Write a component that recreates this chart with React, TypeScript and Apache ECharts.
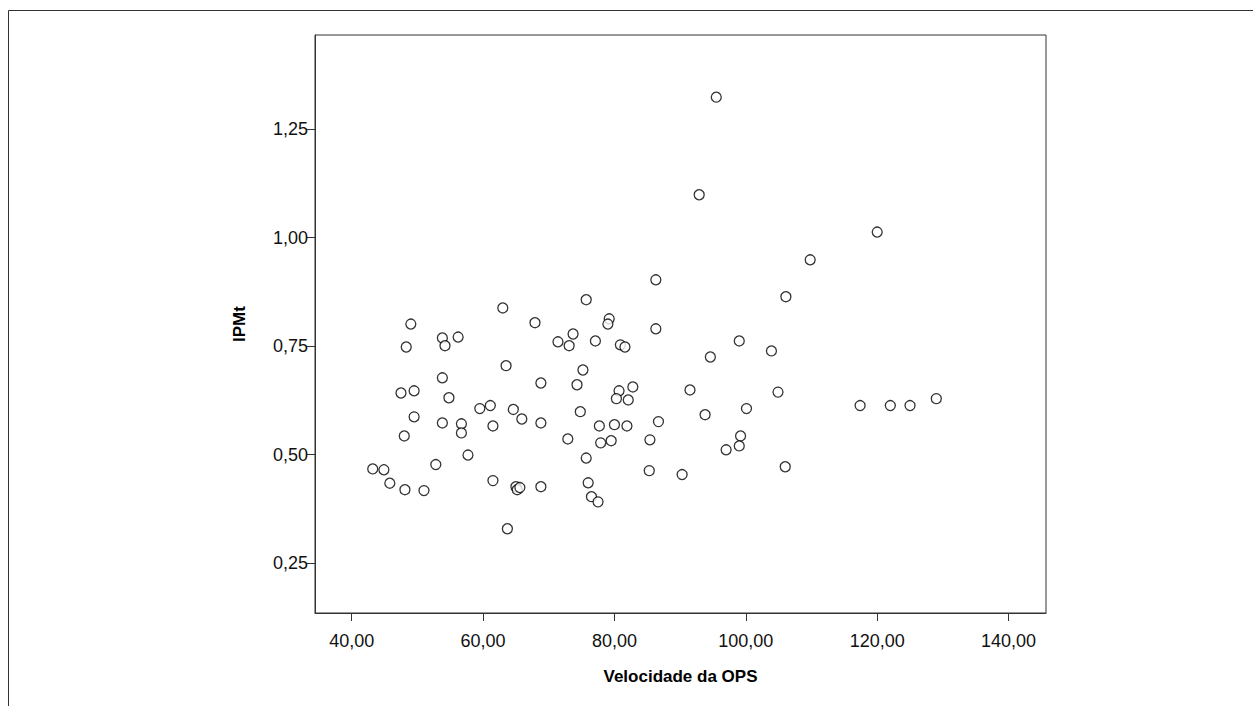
import React, { useEffect, useRef } from "react";
import * as echarts from "echarts";

// Velocidade da OPS (x) and IPMt (y)
const xValues: number[] = [
  95.5, 92.9, 120.0, 109.8, 86.3, 106.1, 63.0, 75.7, 79.2, 79.0,
  67.9, 86.3, 49.0, 53.8, 56.2, 48.3, 54.2, 71.4, 73.1, 73.7,
  77.1, 80.9, 81.6, 99.0, 94.6, 103.9, 63.5, 75.2, 68.8, 74.3,
  53.8, 47.5, 49.5, 54.8, 59.5, 61.1, 64.6, 80.7, 80.3, 82.8,
  82.1, 91.5, 104.9, 93.8, 100.1, 117.4, 122.0, 125.0, 129.0, 49.5,
  53.8, 56.7, 56.7, 48.0, 61.5, 65.9, 68.8, 74.8, 86.7, 80.0,
  77.7, 81.9, 79.5, 72.9, 77.9, 85.4, 99.2, 97.0, 99.0, 57.7,
  75.7, 43.2, 44.9, 52.8, 85.3, 90.3, 106.0, 45.8, 48.1, 51.0,
  61.5, 65.0, 65.2, 65.6, 68.8, 76.0, 76.5, 77.5, 63.7,
];
const yValues: number[] = [
  1.324, 1.099, 1.013, 0.949, 0.903, 0.864, 0.838, 0.857, 0.813, 0.801,
  0.804, 0.79, 0.801, 0.769, 0.771, 0.748, 0.751, 0.76, 0.751, 0.778,
  0.762, 0.753, 0.748, 0.762, 0.725, 0.739, 0.705, 0.695, 0.665, 0.661,
  0.677, 0.642, 0.647, 0.631, 0.606, 0.613, 0.604, 0.647, 0.629, 0.656,
  0.626, 0.649, 0.644, 0.592, 0.606, 0.613, 0.613, 0.613, 0.629, 0.587,
  0.573, 0.571, 0.55, 0.543, 0.566, 0.582, 0.573, 0.599, 0.576, 0.569,
  0.566, 0.566, 0.532, 0.536, 0.527, 0.534, 0.543, 0.511, 0.52, 0.499,
  0.492, 0.467, 0.465, 0.477, 0.463, 0.454, 0.472, 0.434, 0.419, 0.417,
  0.44, 0.426, 0.419, 0.424, 0.426, 0.435, 0.403, 0.391, 0.329,
];
const xTicks: number[] = [40, 60, 80, 100, 120, 140];
const yTicks: number[] = [0.25, 0.5, 0.75, 1.0, 1.25];
const xTitle = "Velocidade da OPS";
const yTitle = "IPMt";

const FONT = "'Liberation Sans Narrow', 'Arial Narrow', 'Liberation Sans', Arial, sans-serif";
const fmt = (v: number) => v.toFixed(2).replace(".", ",");

export default function App() {
  const ref = useRef<HTMLDivElement>(null);
  useEffect(() => {
    if (!ref.current) return;
    const chart = echarts.init(ref.current, undefined, { renderer: "svg" });
    const points = xValues.map((x, i) => [x, yValues[i]]);
    chart.setOption({
      animation: false,
      backgroundColor: "#ffffff",
      grid: {
        left: 315,
        top: 35,
        right: 207,
        bottom: 93,
        show: true,
        borderColor: "#333",
        borderWidth: 1,
        backgroundColor: "transparent",
      },
      graphic: [
        {
          type: "rect",
          shape: { x: 8.5, y: 10.5, width: 1400, height: 900 },
          style: { fill: "none", stroke: "#333", lineWidth: 1 },
          silent: true,
        },
      ],
      xAxis: {
        type: "value",
        min: 34.41,
        max: 145.7,
        name: xTitle,
        nameLocation: "middle",
        nameGap: 55,
        nameTextStyle: { fontFamily: FONT, fontSize: 17, fontWeight: "bold", color: "#000" },
        axisLine: { show: true, lineStyle: { color: "#333", width: 1 } },
        axisTick: { show: true, length: 8, customValues: xTicks, lineStyle: { color: "#333" } },
        axisLabel: {
          customValues: xTicks,
          formatter: (v: number) => fmt(v),
          fontFamily: FONT,
          fontSize: 18,
          color: "#111",
          margin: 19,
        },
        splitLine: { show: false },
      },
      yAxis: {
        type: "value",
        min: 0.1348,
        max: 1.4673,
        name: yTitle,
        nameLocation: "middle",
        nameGap: 67,
        nameRotate: 90,
        nameTextStyle: { fontFamily: FONT, fontSize: 17, fontWeight: "bold", color: "#000" },
        axisLine: { show: true, lineStyle: { color: "#333", width: 1 } },
        axisTick: { show: true, length: 8, customValues: yTicks, lineStyle: { color: "#333" } },
        axisLabel: {
          customValues: yTicks,
          formatter: (v: number) => fmt(v),
          fontFamily: FONT,
          fontSize: 18,
          color: "#111",
          margin: 7,
        },
        splitLine: { show: false },
      },
      series: [
        {
          type: "scatter",
          data: points,
          symbol: "circle",
          symbolSize: 10,
          itemStyle: { color: "#ffffff", borderColor: "#000", borderWidth: 1.3 },
        },
      ],
    });
    return () => chart.dispose();
  }, []);
  return (
    <div
      ref={ref}
      style={{ position: "fixed", left: 0, top: 0, width: 1253, height: 706 }}
    />
  );
}
